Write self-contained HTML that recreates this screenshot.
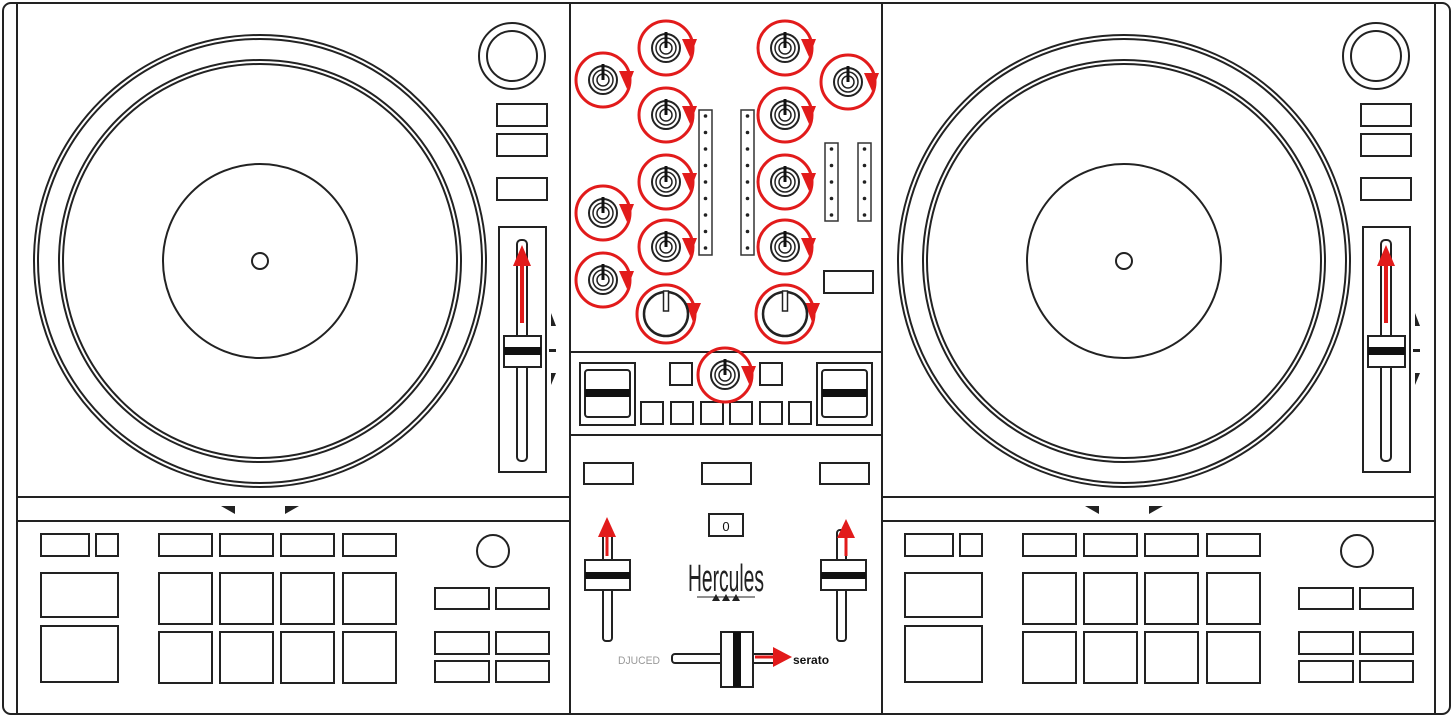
<!DOCTYPE html>
<html><head><meta charset="utf-8"><style>html,body{margin:0;padding:0;background:#fff}svg{display:block}</style></head>
<body>
<svg width="1453" height="717" viewBox="0 0 1453 717" xmlns="http://www.w3.org/2000/svg">
<defs>
<g id="deck" fill="none" stroke="#222" stroke-width="2">
  <circle cx="260" cy="261" r="226"/>
  <circle cx="260" cy="261" r="222"/>
  <circle cx="260" cy="261" r="201"/>
  <circle cx="260" cy="261" r="197"/>
  <circle cx="260" cy="261" r="97"/>
  <circle cx="260" cy="261" r="8"/>
  <circle cx="512" cy="56" r="33"/>
  <circle cx="512" cy="56" r="25"/>
  <rect x="497" y="104" width="50" height="22"/>
  <rect x="497" y="134" width="50" height="22"/>
  <rect x="497" y="178" width="50" height="22"/>
  <rect x="499" y="227" width="47" height="245"/>
  <rect x="517" y="240" width="10" height="221" rx="4"/>
  <rect x="504" y="336" width="37" height="31" fill="#fff"/>
  <rect x="504" y="347" width="37" height="8" fill="#111" stroke="none"/>
  <line x1="522" y1="323" x2="522" y2="262" stroke="#e21b1b" stroke-width="4"/>
  <polygon points="522,245 513,266 531,266" fill="#e21b1b" stroke="none"/>
  <polygon points="551,313 551,326 556,326" fill="#222" stroke="none"/>
  <rect x="549" y="349" width="7" height="3" fill="#222" stroke="none"/>
  <polygon points="551,385 551,373 556,373" fill="#222" stroke="none"/>
  <polygon points="221,506 235,506 235,514" fill="#222" stroke="none"/>
  <polygon points="299,506 285,506 285,514" fill="#222" stroke="none"/>
  <rect x="41" y="534" width="48" height="22"/>
  <rect x="96" y="534" width="22" height="22"/>
  <rect x="159" y="534" width="53" height="22"/>
  <rect x="220" y="534" width="53" height="22"/>
  <rect x="281" y="534" width="53" height="22"/>
  <rect x="343" y="534" width="53" height="22"/>
  <rect x="41" y="573" width="77" height="44"/>
  <rect x="41" y="626" width="77" height="56"/>
  <rect x="159" y="573" width="53" height="51"/>
  <rect x="220" y="573" width="53" height="51"/>
  <rect x="281" y="573" width="53" height="51"/>
  <rect x="343" y="573" width="53" height="51"/>
  <rect x="159" y="632" width="53" height="51"/>
  <rect x="220" y="632" width="53" height="51"/>
  <rect x="281" y="632" width="53" height="51"/>
  <rect x="343" y="632" width="53" height="51"/>
  <circle cx="493" cy="551" r="16"/>
  <rect x="435" y="588" width="54" height="21"/>
  <rect x="496" y="588" width="53" height="21"/>
  <rect x="435" y="632" width="54" height="22"/>
  <rect x="496" y="632" width="53" height="22"/>
  <rect x="435" y="661" width="54" height="21"/>
  <rect x="496" y="661" width="53" height="21"/>
</g>
<g id="knob">
  <circle r="27" fill="none" stroke="#e21b1b" stroke-width="3"/>
  <polygon points="16,-9 31,-9 24,9" fill="#e21b1b"/>
  <circle r="14" fill="#fff" stroke="#222" stroke-width="2"/>
  <circle r="10" fill="none" stroke="#222" stroke-width="1.5"/>
  <circle r="6" fill="none" stroke="#222" stroke-width="1.5"/>
  <line x1="0" y1="-16" x2="0" y2="0" stroke="#111" stroke-width="3"/>
</g>
<g id="bigknob">
  <circle r="29" fill="none" stroke="#e21b1b" stroke-width="3"/>
  <polygon points="20,-11 35,-11 27,8" fill="#e21b1b"/>
  <circle r="22" fill="#fff" stroke="#222" stroke-width="2.5"/>
  <rect x="-2.5" y="-23" width="5" height="20" fill="#fff" stroke="#222" stroke-width="1.5"/>
</g>
</defs>

<rect x="3" y="3" width="1447" height="711" rx="8" fill="#fff" stroke="#222" stroke-width="2"/>
<g stroke="#222" stroke-width="2" fill="none">
  <line x1="17" y1="4" x2="17" y2="713"/>
  <line x1="1435" y1="4" x2="1435" y2="713"/>
  <line x1="570" y1="4" x2="570" y2="713"/>
  <line x1="882" y1="4" x2="882" y2="713"/>
  <line x1="17" y1="497" x2="570" y2="497"/>
  <line x1="17" y1="521" x2="570" y2="521"/>
  <line x1="882" y1="497" x2="1435" y2="497"/>
  <line x1="882" y1="521" x2="1435" y2="521"/>
  <line x1="570" y1="352" x2="882" y2="352"/>
  <line x1="570" y1="435" x2="882" y2="435"/>
</g>
<use href="#deck"/>
<use href="#deck" transform="translate(864,0)"/>

<use href="#knob" transform="translate(603,80)"/>
<use href="#knob" transform="translate(603,213)"/>
<use href="#knob" transform="translate(603,280)"/>
<use href="#knob" transform="translate(666,48)"/>
<use href="#knob" transform="translate(666,115)"/>
<use href="#knob" transform="translate(666,182)"/>
<use href="#knob" transform="translate(666,247)"/>
<use href="#knob" transform="translate(785,48)"/>
<use href="#knob" transform="translate(785,115)"/>
<use href="#knob" transform="translate(785,182)"/>
<use href="#knob" transform="translate(785,247)"/>
<use href="#knob" transform="translate(848,82)"/>
<use href="#bigknob" transform="translate(666,314)"/>
<use href="#bigknob" transform="translate(785,314)"/>

<g fill="none" stroke="#333" stroke-width="1.5">
  <rect x="699" y="110" width="13" height="145"/>
  <rect x="741" y="110" width="13" height="145"/>
  <rect x="825" y="143" width="13" height="78"/>
  <rect x="858" y="143" width="13" height="78"/>
  <rect x="824" y="271" width="49" height="22" stroke="#222" stroke-width="2"/>
</g>
<g fill="#222">
  <circle cx="705.5" cy="116" r="1.8"/><circle cx="705.5" cy="132.5" r="1.8"/><circle cx="705.5" cy="149" r="1.8"/><circle cx="705.5" cy="165.5" r="1.8"/><circle cx="705.5" cy="182" r="1.8"/><circle cx="705.5" cy="198.5" r="1.8"/><circle cx="705.5" cy="215" r="1.8"/><circle cx="705.5" cy="231.5" r="1.8"/><circle cx="705.5" cy="248" r="1.8"/>
  <circle cx="747.5" cy="116" r="1.8"/><circle cx="747.5" cy="132.5" r="1.8"/><circle cx="747.5" cy="149" r="1.8"/><circle cx="747.5" cy="165.5" r="1.8"/><circle cx="747.5" cy="182" r="1.8"/><circle cx="747.5" cy="198.5" r="1.8"/><circle cx="747.5" cy="215" r="1.8"/><circle cx="747.5" cy="231.5" r="1.8"/><circle cx="747.5" cy="248" r="1.8"/>
  <circle cx="831.5" cy="149" r="1.8"/><circle cx="831.5" cy="165.5" r="1.8"/><circle cx="831.5" cy="182" r="1.8"/><circle cx="831.5" cy="198.5" r="1.8"/><circle cx="831.5" cy="215" r="1.8"/>
  <circle cx="864.5" cy="149" r="1.8"/><circle cx="864.5" cy="165.5" r="1.8"/><circle cx="864.5" cy="182" r="1.8"/><circle cx="864.5" cy="198.5" r="1.8"/><circle cx="864.5" cy="215" r="1.8"/>
</g>

<g fill="none" stroke="#222" stroke-width="2">
  <rect x="580" y="363" width="55" height="62"/>
  <rect x="585" y="370" width="45" height="47" rx="3"/>
  <rect x="817" y="363" width="55" height="62"/>
  <rect x="822" y="370" width="45" height="47" rx="3"/>
  <rect x="670" y="363" width="22" height="22"/>
  <rect x="760" y="363" width="22" height="22"/>
  <rect x="641" y="402" width="22" height="22"/>
  <rect x="671" y="402" width="22" height="22"/>
  <rect x="701" y="402" width="22" height="22"/>
  <rect x="730" y="402" width="22" height="22"/>
  <rect x="760" y="402" width="22" height="22"/>
  <rect x="789" y="402" width="22" height="22"/>
</g>
<rect x="585" y="389" width="45" height="8" fill="#111"/>
<rect x="822" y="389" width="45" height="8" fill="#111"/>
<use href="#knob" transform="translate(725,375)"/>

<g fill="none" stroke="#222" stroke-width="2">
  <rect x="584" y="463" width="49" height="21"/>
  <rect x="702" y="463" width="49" height="21"/>
  <rect x="820" y="463" width="49" height="21"/>
  <rect x="709" y="514" width="34" height="22"/>
  <rect x="603" y="530" width="9" height="111" rx="3"/>
  <rect x="837" y="530" width="9" height="111" rx="3"/>
  <rect x="672" y="654" width="108" height="9" rx="3"/>
</g>
<text x="726" y="531" font-family="Liberation Sans, sans-serif" font-size="13" text-anchor="middle" fill="#111">0</text>
<g fill="#fff" stroke="#222" stroke-width="2">
  <rect x="585" y="560" width="45" height="30"/>
  <rect x="821" y="560" width="45" height="30"/>
  <rect x="721" y="632" width="32" height="55"/>
</g>
<rect x="585" y="572" width="45" height="7" fill="#111"/>
<rect x="821" y="572" width="45" height="7" fill="#111"/>
<rect x="733" y="632" width="8" height="55" fill="#111"/>
<line x1="607" y1="556" x2="607" y2="535" stroke="#e21b1b" stroke-width="3"/>
<polygon points="607,517 598,537 616,537" fill="#e21b1b"/>
<line x1="846" y1="556" x2="846" y2="535" stroke="#e21b1b" stroke-width="3"/>
<polygon points="846,519 837,538 855,538" fill="#e21b1b"/>
<line x1="755" y1="657" x2="778" y2="657" stroke="#e21b1b" stroke-width="3"/>
<polygon points="792,657 773,647 773,667" fill="#e21b1b"/>
<text x="688" y="591" font-family="Liberation Sans, sans-serif" font-size="38" fill="#222" textLength="76" lengthAdjust="spacingAndGlyphs">Hercules</text>
<line x1="697" y1="597" x2="755" y2="597" stroke="#222" stroke-width="1"/>
<polygon points="712,601 716,594 720,601" fill="#222"/>
<polygon points="722,601 726,594 730,601" fill="#222"/>
<polygon points="732,601 736,594 740,601" fill="#222"/>
<text x="618" y="664" font-family="Liberation Sans, sans-serif" font-size="11" fill="#999" textLength="42" lengthAdjust="spacingAndGlyphs">DJUCED</text>
<text x="793" y="664" font-family="Liberation Sans, sans-serif" font-size="12" font-weight="bold" fill="#111">serato</text>
</svg>
</body></html>
